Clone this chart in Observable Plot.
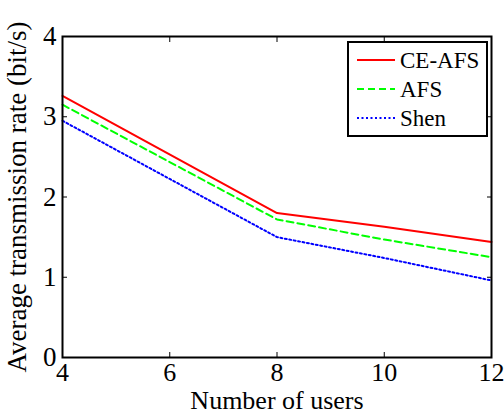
<!DOCTYPE html>
<html><head><meta charset="utf-8">
<script src="https://cdn.jsdelivr.net/npm/d3@7"></script>
<script src="https://cdn.jsdelivr.net/npm/@observablehq/plot@0.6"></script>
<style>body{margin:0;background:#fff} #chart{width:504px;height:414px} #chart svg, #chart svg text{font-family: "Liberation Serif", serif !important;}</style>
</head><body><div id="chart"></div>
<script>
const users = [4, 8, 10, 12];
const ceafs = [3.26, 1.80, 1.63, 1.44];
const afs = [3.15, 1.72, 1.47, 1.25];
const shen = [2.95, 1.50, 1.24, 0.96];
const seriesNames = ["CE-AFS", "AFS", "Shen"];
const seriesColors = ["#ff0000", "#00ff00", "#0000ff"];
const seriesDash = [null, "7,4", "2,2.5"];
const xTicks = [4, 6, 8, 10, 12];
const yTicks = [0, 1, 2, 3, 4];

const rows = [];
[ceafs, afs, shen].forEach((vals, i) => vals.forEach((v, j) => rows.push({series: seriesNames[i], x: users[j], y: v})));

const lineMarks = seriesNames.map((name, i) => Plot.line(rows.filter(r => r.series === name), {
  x: "x", y: "y", stroke: seriesColors[i], strokeWidth: 2, strokeDasharray: seriesDash[i]
}));

const blank = () => "";
const fmt = d => String(d);
const chart = Plot.plot({
  width: 504, height: 414,
  marginLeft: 62, marginRight: 13, marginTop: 36, marginBottom: 57,
  x: {domain: [4, 12]},
  y: {domain: [0, 4]},
  style: {fontFamily: "Liberation Serif, serif", fontSize: "26px", color: "black", background: "white"},
  marks: [
    Plot.axisX(xTicks, {tickSize: 0, tickPadding: 5, tickFormat: fmt, label: "Number of users", labelArrow: "none", labelAnchor: "center", labelOffset: 51, fontSize: 26}),
    Plot.axisX(xTicks, {anchor: "bottom", tickSize: -5, tickFormat: blank, label: null}),
    Plot.axisX(xTicks, {anchor: "top", tickSize: -5, tickFormat: blank, label: null}),
    Plot.axisY(yTicks, {tickSize: 0, tickPadding: 6, tickFormat: fmt, label: "Average transmission rate (bit/s)", labelArrow: "none", labelAnchor: "center", labelOffset: 56, fontSize: 27}),
    Plot.axisY(yTicks, {anchor: "left", tickSize: -5, tickFormat: blank, label: null}),
    Plot.axisY(yTicks, {anchor: "right", tickSize: -5, tickFormat: blank, label: null}),
    ...lineMarks,
    Plot.frame({stroke: "black", strokeWidth: 2})
  ]
});
document.getElementById("chart").appendChild(chart);

// legend
const svg = d3.select(chart);
const lg = svg.append("g").attr("font-size", 23).attr("font-family", "Liberation Serif, serif").attr("text-anchor", "start");
lg.append("rect").attr("x", 348).attr("y", 42).attr("width", 139).attr("height", 94)
  .attr("fill", "white").attr("stroke", "black").attr("stroke-width", 2);
const rowY = [60, 89, 118];
seriesNames.forEach((name, i) => {
  lg.append("line").attr("x1", 357).attr("x2", 395).attr("y1", rowY[i]).attr("y2", rowY[i])
    .attr("stroke", seriesColors[i]).attr("stroke-width", 2).attr("stroke-dasharray", seriesDash[i]);
  lg.append("text").attr("x", 400).attr("y", rowY[i]).attr("dy", "0.35em").attr("fill", "black").text(name);
});
</script></body></html>
